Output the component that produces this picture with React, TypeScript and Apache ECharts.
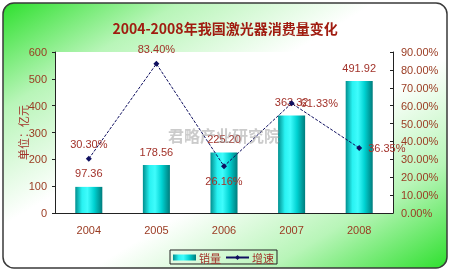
import React, { useEffect, useRef } from "react";
import * as echarts from "echarts";

const years = ["2004", "2005", "2006", "2007", "2008"];
const sales = [97.36, 178.56, 225.2, 363.32, 491.92];
const growth = [30.3, 83.4, 26.16, 61.33, 36.35];
const growthLabelPos = ["top", "top", "bottom", "right", "right"];

const RED = "#a2322a";
const AXIS_RED = "#9a3b22";

export default function App() {
  const ref = useRef<HTMLDivElement>(null);

  useEffect(() => {
    if (!ref.current) return;
    const chart = echarts.init(ref.current, null, { renderer: "svg" });

    const barGradient = new echarts.graphic.LinearGradient(0, 0, 1, 0, [
      { offset: 0, color: "#008f8f" },
      { offset: 0.25, color: "#29f2f2" },
      { offset: 0.45, color: "#3ffcfc" },
      { offset: 0.7, color: "#00d2d2" },
      { offset: 1, color: "#007c7c" },
    ]);

    chart.setOption({
      animation: false,
      textStyle: { fontFamily: "Liberation Sans, Arial, sans-serif" },
      graphic: [
        {
          type: "rect",
          z: -10,
          shape: { x: 3, y: 3, width: 444, height: 265, r: 11 },
          style: {
            fill: new echarts.graphic.LinearGradient(0, 0, 1, 1, [
              { offset: 0, color: "#2ee02e" },
              { offset: 0.2, color: "#b8f5b8" },
              { offset: 0.42, color: "#ffffff" },
              { offset: 0.6, color: "#ffffff" },
              { offset: 0.8, color: "#b8f5b8" },
              { offset: 1, color: "#2ee02e" },
            ]),
            stroke: "#3a3a3a",
            lineWidth: 1.5,
          },
        },
        {
          type: "text",
          z: 20,
          left: 168,
          top: 127,
          style: {
            text: "君略产业研究院",
            fill: "rgba(140,140,140,0.45)",
            font: "bold 16px 'Noto Sans CJK SC'",
          },
        },
      ],
      title: {
        text: "2004-2008年我国激光器消费量变化",
        left: "center",
        top: 16,
        textStyle: {
          color: "#a01c10",
          fontSize: 14,
          fontWeight: "bold",
          fontFamily: "Noto Sans CJK SC",
        },
      },
      legend: {
        left: 170,
        top: 250,
        padding: [2, 3, 1, 3],
        itemGap: 4,
        itemWidth: 23,
        itemHeight: 6,
        borderColor: "#222",
        borderWidth: 1,
        textStyle: { color: RED, fontSize: 11, fontFamily: "Noto Sans CJK SC", padding: [0, 0, 0, -2] },
        data: [
          { name: "销量", icon: "rect" },
          { name: "增速", lineStyle: { type: "solid" } },
        ],
      },
      grid: {
        left: 55,
        right: 57,
        top: 52,
        bottom: 60,
        show: true,
        backgroundColor: "#ffffff",
        borderWidth: 0,
      },
      xAxis: {
        type: "category",
        data: years,
        axisLine: { lineStyle: { color: "#222", width: 1 } },
        axisTick: { inside: true, length: 3, lineStyle: { color: "#222" } },
        axisLabel: { color: AXIS_RED, fontSize: 11, margin: 11 },
      },
      yAxis: [
        {
          type: "value",
          min: 0,
          max: 600,
          interval: 100,
          name: "单位：亿元",
          nameLocation: "middle",
          nameRotate: 90,
          nameGap: 27,
          nameMoveOverlap: false,
          nameTextStyle: { color: RED, fontSize: 11, fontFamily: "Noto Sans CJK SC" },
          splitLine: { show: false },
          axisLine: { show: true, lineStyle: { color: "#222" } },
          axisTick: { show: true, length: 3, lineStyle: { color: "#222" } },
          axisLabel: { color: AXIS_RED, fontSize: 11, margin: 8 },
        },
        {
          type: "value",
          min: 0,
          max: 90,
          interval: 10,
          position: "right",
          splitLine: { show: false },
          axisLine: { show: true, lineStyle: { color: "#222" } },
          axisTick: { show: true, inside: true, length: 3, lineStyle: { color: "#222" } },
          axisLabel: {
            color: AXIS_RED,
            fontSize: 11,
            margin: 8,
            formatter: (v: number) => v.toFixed(2) + "%",
          },
        },
      ],
      series: [
        {
          name: "销量",
          type: "bar",
          data: sales,
          barWidth: "40%",
          itemStyle: { color: barGradient },
          label: {
            show: true,
            position: "top",
            distance: 8,
            color: RED,
            fontSize: 11,
            formatter: (p: any) => Number(p.value).toFixed(2),
          },
        },
        {
          name: "增速",
          type: "line",
          yAxisIndex: 1,
          z: 5,
          data: growth.map((v, i) => ({
            value: v,
            label: { position: growthLabelPos[i] },
          })),
          symbol: "diamond",
          symbolSize: 6,
          itemStyle: { color: "#101060" },
          lineStyle: { color: "#101060", width: 1, type: [3, 1.5] },
          label: {
            show: true,
            color: RED,
            fontSize: 11,
            distance: 6,
            formatter: (p: any) => Number(p.value).toFixed(2) + "%",
          },
        },
      ],
    });

    return () => chart.dispose();
  }, []);

  return (
    <div
      ref={ref}
      style={{ position: "fixed", left: 0, top: 0, width: 450, height: 273 }}
    />
  );
}
